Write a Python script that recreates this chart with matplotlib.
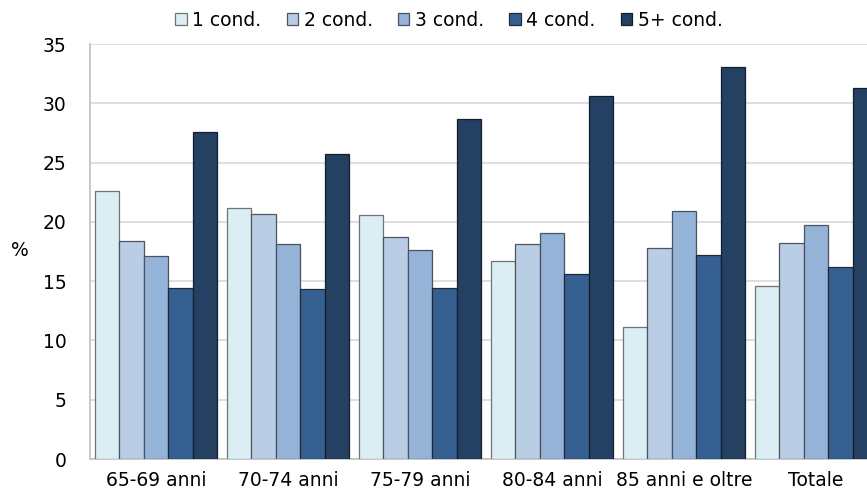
import numpy as np
import matplotlib
matplotlib.use("Agg")
import matplotlib.pyplot as plt
from matplotlib.patches import Patch

categories = ["65-69 anni", "70-74 anni", "75-79 anni", "80-84 anni", "85 anni e oltre", "Totale"]
series_names = ["1 cond.", "2 cond.", "3 cond.", "4 cond.", "5+ cond."]
cond1 = [22.6, 21.2, 20.6, 16.7, 11.1, 14.6]
cond2 = [18.4, 20.7, 18.7, 18.1, 17.8, 18.2]
cond3 = [17.1, 18.1, 17.6, 19.1, 20.9, 19.7]
cond4 = [14.4, 14.3, 14.4, 15.6, 17.2, 16.2]
cond5 = [27.6, 25.7, 28.7, 30.6, 33.1, 31.3]
yticks = [0, 5, 10, 15, 20, 25, 30, 35]

series = [cond1, cond2, cond3, cond4, cond5]
fills = ["#DAEEF3", "#B9CDE5", "#95B3D7", "#366092", "#244062"]
edges = ["#6E7378", "#4F5560", "#4A5260", "#1E2A38", "#141E2C"]

plt.rcParams["font.family"] = ["DejaVu Sans"]

fig = plt.figure(figsize=(8.67, 4.90), dpi=100)
# plot area runs a little past the right edge of the canvas
ax = fig.add_axes([90 / 867, 31 / 490, 792 / 867, 415 / 490])

n = len(series)
x = np.arange(len(categories))
bw = 0.925 / n
for i, (vals, fc, ec) in enumerate(zip(series, fills, edges)):
    offs = (i - (n - 1) / 2) * bw
    ax.bar(x + offs, vals, width=bw, color=fc, edgecolor=ec, linewidth=0.9,
           label=series_names[i], zorder=3)

ax.set_xlim(-0.5, len(categories) - 0.5)
ax.set_ylim(0, 35)
ax.set_yticks(yticks)
ax.set_xticks(x)
ax.set_xticklabels(categories)
ax.tick_params(axis="both", length=0, labelsize=13.5, colors="#000000")
ax.tick_params(axis="x", pad=8.5)
ax.tick_params(axis="y", pad=17)
ax.yaxis.grid(True, color="#D9D9D9", linewidth=1.2, zorder=0)
ax.set_axisbelow(True)
for s in ["top", "right"]:
    ax.spines[s].set_visible(False)
for s in ["left", "bottom"]:
    ax.spines[s].set_color("#BFBFBF")
    ax.spines[s].set_linewidth(1.2)

fig.text(20 / 867, 1 - 250 / 490, "%", fontsize=13.5, ha="center", va="center")

handles = [Patch(facecolor=fc, edgecolor=ec, linewidth=0.9) for fc, ec in zip(fills, edges)]
fig.legend(handles, series_names, loc="center", bbox_to_anchor=(449 / 867, 1 - 20 / 490),
           ncol=5, frameon=False, fontsize=13.5, handlelength=0.6, handleheight=0.6,
           handletextpad=0.3, columnspacing=1.35)

fig.savefig("out.png", dpi=100)
